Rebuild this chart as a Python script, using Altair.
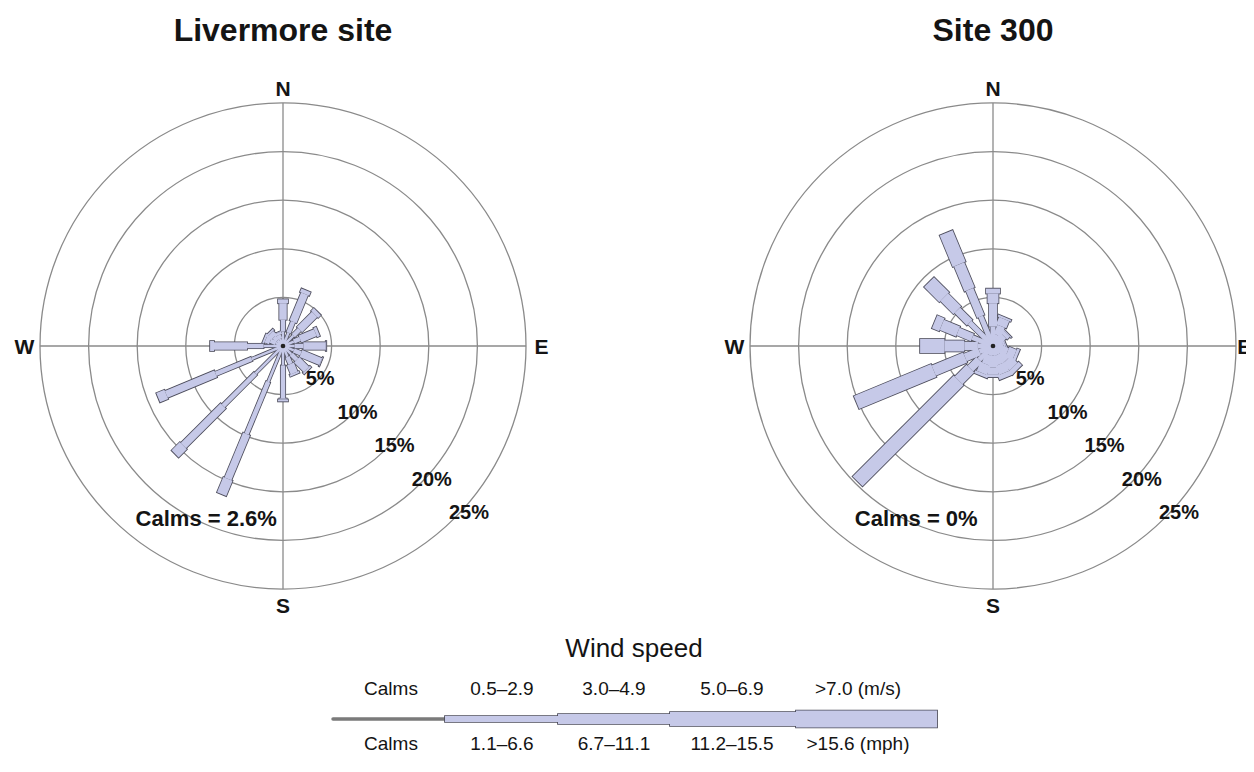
import math
import altair as alt
import pandas as pd

# ---------------- data ----------------
DIRECTIONS = ["N", "NNE", "NE", "ENE", "E", "ESE", "SE", "SSE",
              "S", "SSW", "SW", "WSW", "W", "WNW", "NW", "NNW"]
SPEED_MS = ["0.5–2.9", "3.0–4.9", "5.0–6.9", ">7.0"]
SPEED_MPH = ["1.1–6.6", "6.7–11.1", "11.2–15.5", ">15.6"]
SITES = ["Livermore site", "Site 300"]
CALMS_PCT = [2.6, 0]
RINGS = [5, 10, 15, 20, 25]
COMPASS = ["N", "E", "S", "W"]

# Livermore site: % frequency per direction for each speed class (m/s)
LIV_05_29 = [1.5, 1.5, 1.5, 1.2, 1.2, 1.2, 1.2, 1.2, 2.0, 4.0, 4.0, 3.5, 2.0, 0.8, 0.8, 0.8]
LIV_30_49 = [1.2, 1.2, 0.9, 0.7, 0.9, 0.8, 0.8, 0.8, 3.4, 5.8, 4.7, 4.0, 1.7, 0.6, 0.5, 0.4]
LIV_50_69 = [1.7, 3.1, 2.2, 1.7, 2.3, 2.2, 1.4, 1.0, 0.1, 5.0, 5.8, 5.5, 3.4, 0.5, 0.5, 0.25]
LIV_GT_70 = [0.4, 0.4, 0.4, 0.3, 0.05, 0.05, 0.2, 0.2, 0.2, 1.7, 1.2, 0.9, 0.4, 0.2, 0.2, 0.05]

# Site 300
S300_05_29 = [2.0, 1.2, 0.8, 0.6, 0.5, 0.8, 1.0, 1.0, 1.0, 1.0, 2.0, 1.5, 1.55, 2.3, 3.4, 3.3]
S300_30_49 = [2.4, 1.0, 0.7, 0.4, 0.4, 0.8, 1.0, 1.0, 1.2, 1.0, 1.3, 1.6, 1.4, 1.6, 1.8, 3.0]
S300_50_69 = [1.0, 0.8, 0.4, 0.2, 0.1, 0.8, 1.0, 1.0, 0.7, 1.0, 1.7, 3.5, 2.05, 1.8, 1.9, 2.8]
S300_GT_70 = [0.5, 0.2, 0.1, 0.1, 0.0, 0.3, 0.5, 0.5, 0.3, 0.3, 14.7, 8.6, 2.5, 0.8, 2.2, 3.5]

SITE_SERIES = {
    "Livermore site": [LIV_05_29, LIV_30_49, LIV_50_69, LIV_GT_70],
    "Site 300": [S300_05_29, S300_30_49, S300_50_69, S300_GT_70],
}

# ---------------- layout / style ----------------
K = 9.72                      # pixels per percent
W, H = 1238, 750
CX_L, CX_R, CY = 275, 985, 338  # rose centres in view pixels
XMIN, XMAX = -CX_L / K, (W - CX_L) / K
YMIN, YMAX = -(H - CY) / K, CY / K
SITE_DX = {"Livermore site": 0.0, "Site 300": (CX_R - CX_L) / K}


def px_x(px):  # page pixel -> data units
    return (px - 8 - CX_L) / K


def px_y(py):
    return (CY - (py - 8)) / K


BAR_WIDTH = {"Livermore site": [2.5, 4.5, 7.5, 10], "Site 300": [5, 8, 11, 14]}
LEGEND_WIDTH = [6, 10, 14, 17]
LEG_BOUNDS_PX = [333, 445, 558, 670, 796, 937]
LEG_LABEL_X_PX = [391, 502, 614, 732, 858]
LEG_ROWS_PY = {"title": 649, "ms": 689, "bar": 719, "mph": 744}
COMPASS_R = 26.6
COMPASS_R_EDGE = 25.85   # right-hand "E" sits at the page edge (partly cut, as in the source)
FILL = "#c6c9e8"
EDGE = "#4b4b5a"
GRID = "#8a8a8a"
FONT = "Liberation Sans"
INK = "#141414"
EXT = 0.09  # outline overhang (data units)

XS = alt.Scale(domain=[XMIN, XMAX], nice=False, zero=False)
YS = alt.Scale(domain=[YMIN, YMAX], nice=False, zero=False)

# ---------------- tables ----------------
rows = []
for site in SITES:
    series = SITE_SERIES[site]
    for di, d in enumerate(DIRECTIONS):
        for ci, cls in enumerate(SPEED_MS):
            rows.append(dict(site=site, direction=d, bearing=di * 22.5, ci=ci,
                             speed=cls, pct=series[ci][di],
                             w=BAR_WIDTH[site][ci], cx=SITE_DX[site]))
bars_df = pd.DataFrame(rows)

sites_df = pd.DataFrame({"site": SITES, "calms": CALMS_PCT,
                         "cx": [SITE_DX[s] for s in SITES]})
rings_df = pd.DataFrame([dict(site=s, r=r, cx=SITE_DX[s], cy=0.0)
                         for s in SITES for r in RINGS])
cross_df = pd.DataFrame([dict(site=s, ori=o, cx=SITE_DX[s])
                         for s in SITES for o in ["NS", "EW"]])
compass_df = pd.DataFrame([
    dict(site=s, label=c, bearing=90.0 * i, cx=SITE_DX[s],
         rad=COMPASS_R_EDGE if (s == "Site 300" and c == "E") else COMPASS_R)
    for s in SITES for i, c in enumerate(COMPASS)])

RMAX = max(RINGS)


def X(f):
    return alt.X(f, scale=XS, axis=None)


def Y(f):
    return alt.Y(f, scale=YS, axis=None)


# ---------------- rose layers ----------------
bars_base = alt.Chart(bars_df).transform_window(
    r1="sum(pct)", groupby=["site", "direction"],
    sort=[alt.SortField("ci")], frame=[None, 0]
).transform_calculate(
    r0="datum.r1 - datum.pct",
    th="datum.bearing * PI / 180",
).transform_calculate(
    x0="datum.cx + datum.r0 * sin(datum.th)",
    y0="datum.r0 * cos(datum.th)",
    x1="datum.cx + datum.r1 * sin(datum.th)",
    y1="datum.r1 * cos(datum.th)",
    xo0=f"datum.cx + max(datum.r0 - {EXT}, 0) * sin(datum.th)",
    yo0=f"max(datum.r0 - {EXT}, 0) * cos(datum.th)",
    xo1=f"datum.cx + (datum.r1 + {EXT}) * sin(datum.th)",
    yo1=f"(datum.r1 + {EXT}) * cos(datum.th)",
    wo="datum.w + 1.6",
)

bars_edge = bars_base.mark_rule(color=EDGE, strokeCap="butt").encode(
    x=X("xo0:Q"), y=Y("yo0:Q"), x2="xo1:Q", y2="yo1:Q",
    strokeWidth=alt.StrokeWidth("wo:Q", scale=None, legend=None),
)
bars_fill = bars_base.mark_rule(color=FILL, strokeCap="butt").encode(
    x=X("x0:Q"), y=Y("y0:Q"), x2="x1:Q", y2="y1:Q",
    strokeWidth=alt.StrokeWidth("w:Q", scale=None, legend=None),
)

# range rings: circle symbols whose diameter is 2*r on the same percent scale
rings = alt.Chart(rings_df).transform_calculate(
    sz=f"pow(2 * datum.r * {K}, 2)"
).mark_point(shape="circle", filled=False, color=GRID, strokeWidth=1.3, opacity=1).encode(
    x=X("cx:Q"), y=Y("cy:Q"),
    size=alt.Size("sz:Q", scale=None, legend=None),
)

cross = alt.Chart(cross_df).transform_calculate(
    ax0=f"datum.cx - (datum.ori == 'EW' ? {RMAX} : 0)",
    ax1=f"datum.cx + (datum.ori == 'EW' ? {RMAX} : 0)",
    ay0=f"datum.ori == 'NS' ? -{RMAX} : 0",
    ay1=f"datum.ori == 'NS' ? {RMAX} : 0",
).mark_rule(color=GRID, strokeWidth=1.3).encode(
    x=X("ax0:Q"), y=Y("ay0:Q"), x2="ax1:Q", y2="ay1:Q"
)

centre = alt.Chart(sites_df).transform_calculate(cy="0").mark_point(
    filled=True, shape="circle", color="#222", size=22, opacity=1
).encode(x=X("cx:Q"), y=Y("cy:Q"))

# ---------------- text ----------------
titles = alt.Chart(sites_df).transform_calculate(ty=str(px_y(31))).mark_text(
    font=FONT, fontSize=32, fontWeight="bold", color=INK, baseline="middle"
).encode(x=X("cx:Q"), y=Y("ty:Q"), text="site:N")

compass = alt.Chart(compass_df).transform_calculate(
    lx="datum.cx + datum.rad * sin(datum.bearing * PI / 180)",
    ly="datum.rad * cos(datum.bearing * PI / 180) - 0.25",
).mark_text(font=FONT, fontSize=21, fontWeight="bold", color=INK,
            baseline="middle").encode(
    x=X("lx:Q"), y=Y("ly:Q"), text="label:N")

ring_labels = alt.Chart(rings_df).transform_calculate(
    lx="datum.cx + datum.r * 1.03 * sin(132 * PI / 180)",
    ly="datum.r * 1.03 * cos(132 * PI / 180)",
    txt="datum.r + '%'",
).mark_text(font=FONT, fontSize=20, fontWeight="bold", color=INK,
            baseline="middle").encode(x=X("lx:Q"), y=Y("ly:Q"), text="txt:N")

calms_text = alt.Chart(sites_df).transform_calculate(
    lx="datum.cx - 7.9", ly="-17.75",
    txt="'Calms = ' + datum.calms + '%'",
).mark_text(font=FONT, fontSize=22, fontWeight="bold", color=INK,
            baseline="middle").encode(x=X("lx:Q"), y=Y("ly:Q"), text="txt:N")

# ---------------- legend ----------------
leg_seg = pd.DataFrame({
    "speed": SPEED_MS,
    "x0": [px_x(p) for p in LEG_BOUNDS_PX[1:-1]],
    "x1": [px_x(p) for p in LEG_BOUNDS_PX[2:]],
    "w": LEGEND_WIDTH,
})
leg_seg["y"] = px_y(LEG_ROWS_PY["bar"])
leg_seg["xo0"] = leg_seg["x0"] - EXT
leg_seg["xo1"] = leg_seg["x1"] + EXT
leg_seg["wo"] = leg_seg["w"] + 1.6

calm_line = pd.DataFrame({"x0": [px_x(LEG_BOUNDS_PX[0])], "x1": [px_x(LEG_BOUNDS_PX[1])],
                          "y": [px_y(LEG_ROWS_PY["bar"])]})

leg_calm = alt.Chart(calm_line).mark_rule(color="#7a7a7a", strokeWidth=3.5,
                                          strokeCap="round").encode(
    x=X("x0:Q"), x2="x1:Q", y=Y("y:Q"))
leg_edge = alt.Chart(leg_seg).mark_rule(color=EDGE, strokeCap="butt").encode(
    x=X("xo0:Q"), x2="xo1:Q", y=Y("y:Q"),
    strokeWidth=alt.StrokeWidth("wo:Q", scale=None, legend=None))
leg_fill = alt.Chart(leg_seg).mark_rule(color=FILL, strokeCap="butt").encode(
    x=X("x0:Q"), x2="x1:Q", y=Y("y:Q"),
    strokeWidth=alt.StrokeWidth("w:Q", scale=None, legend=None))

ms_labels = ["Calms"] + SPEED_MS[:-1] + [SPEED_MS[-1] + " (m/s)"]
mph_labels = ["Calms"] + SPEED_MPH[:-1] + [SPEED_MPH[-1] + " (mph)"]
leg_text_df = pd.DataFrame(
    [dict(label=l, x=px_x(xp), y=px_y(LEG_ROWS_PY["ms"])) for l, xp in zip(ms_labels, LEG_LABEL_X_PX)]
    + [dict(label=l, x=px_x(xp), y=px_y(LEG_ROWS_PY["mph"])) for l, xp in zip(mph_labels, LEG_LABEL_X_PX)]
)
leg_text = alt.Chart(leg_text_df).mark_text(
    font=FONT, fontSize=19, color=INK, baseline="middle").encode(
    x=X("x:Q"), y=Y("y:Q"), text="label:N")

leg_title_df = pd.DataFrame({"label": ["Wind speed"], "x": [px_x(634)],
                             "y": [px_y(LEG_ROWS_PY["title"])]})
leg_title = alt.Chart(leg_title_df).mark_text(
    font=FONT, fontSize=26, color=INK, baseline="middle").encode(
    x=X("x:Q"), y=Y("y:Q"), text="label:N")

chart = alt.layer(
    rings, cross, bars_edge, bars_fill, centre,
    titles, compass, ring_labels, calms_text,
    leg_calm, leg_edge, leg_fill, leg_text, leg_title,
).properties(
    width=W, height=H, padding=0, background="white",
    autosize=alt.AutoSizeParams(type="none"),
).configure_view(stroke=None)

chart.save("out.html", embed_options={"renderer": "svg", "actions": False})
